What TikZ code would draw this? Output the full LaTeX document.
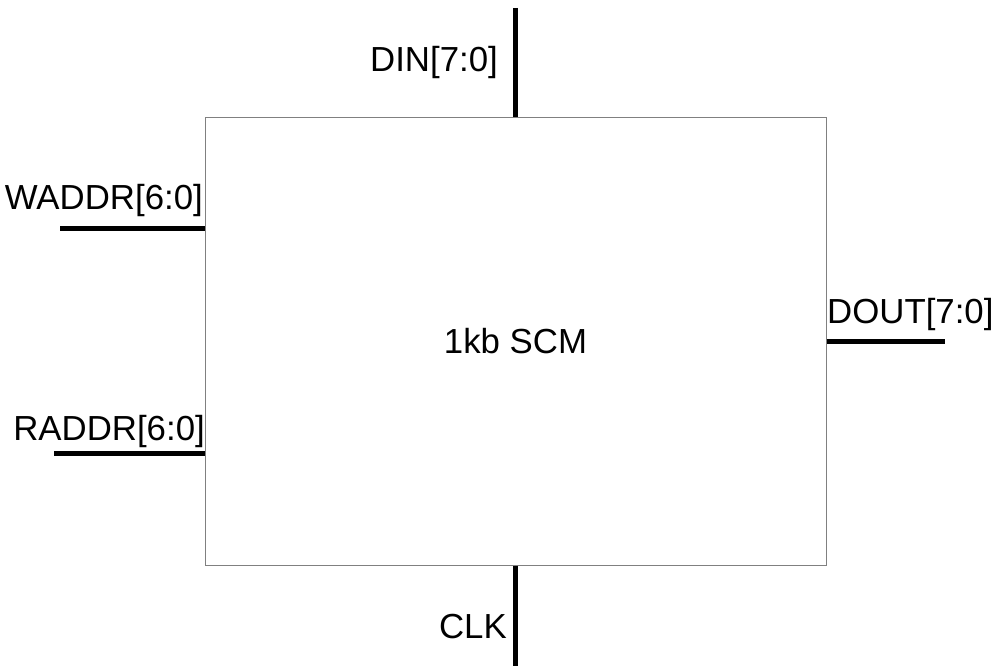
\documentclass[tikz,border=0pt]{standalone}
\usepackage{fontspec}
\setmainfont{Liberation Sans}
\usetikzlibrary{positioning}

\begin{document}
\begin{tikzpicture}[x=1pt,y=-1pt,
    bus/.style={line width=5pt},
    port/.style={inner sep=0pt,font=\fontsize{34.8}{40}\selectfont}]
  \useasboundingbox (0,0) rectangle (997,666);
  % memory block
  \node[port,draw=gray,line width=1pt,minimum width=621pt,minimum height=447pt]
    (scm) at (515.5,341.5) {1kb SCM};
  % bus ends
  \coordinate (din) at (515.5,8);
  \coordinate (clk) at (515.5,666);
  \coordinate (waddr) at (60,229);
  \coordinate (raddr) at (54,453);
  \coordinate (dout) at (945,341.5);
  \draw[bus] (din) -- (scm.north);
  \draw[bus] (scm.south) -- (clk);
  \draw[bus] (waddr) -- (waddr -| scm.west);
  \draw[bus] (raddr) -- (raddr -| scm.west);
  \draw[bus] (scm.east) -- (dout);
  % port names
  \node[port,anchor=base east] (dinlbl) at (498,72) {DIN[7:0]};
  \node[port,anchor=base east] (clklbl) at (507,638) {CLK};
  \node[port,anchor=base east] (waddrlbl) at (203,210) {WADDR[6:0]};
  \node[port,anchor=base east] (raddrlbl) at (205,440) {RADDR[6:0]};
  \node[port,anchor=base west] (doutlbl) at (827,323) {DOUT[7:0]};
\end{tikzpicture}
\end{document}
